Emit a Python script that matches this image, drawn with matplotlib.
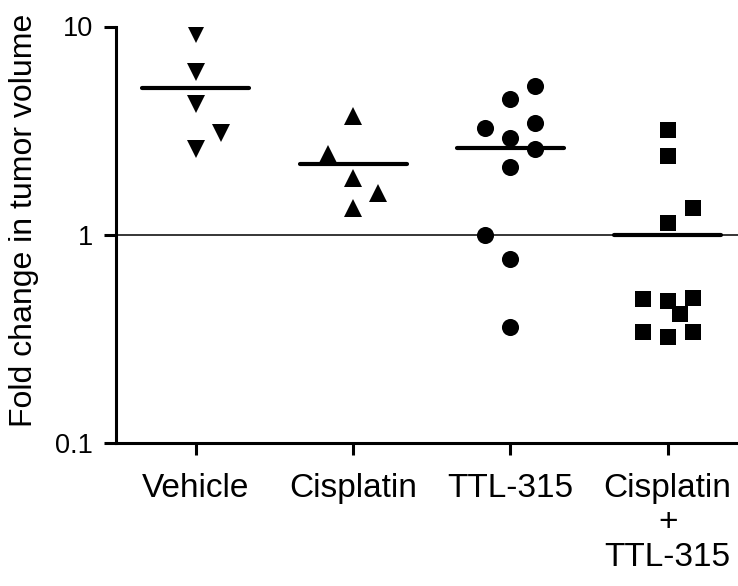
import numpy as np
import matplotlib
matplotlib.use("Agg")
import matplotlib.pyplot as plt

plt.rcParams['font.family'] = ['Liberation Sans', 'DejaVu Sans']

categories = ["Vehicle", "Cisplatin", "TTL-315", "Cisplatin\n+\nTTL-315"]
markers = ["v", "^", "o", "s"]
marker_sizes = [13, 13, 12.3, 12]

vehicle = [9.25, 6.07, 4.26, 3.08, 2.58]
vehicle_jit = [0, 0, 0, 1, 0]
cisplatin = [3.71, 2.43, 1.87, 1.59, 1.34]
cisplatin_jit = [0, -1, 0, 1, 0]
ttl315 = [5.2, 4.48, 3.25, 3.43, 2.91, 2.57, 2.12, 1.0, 0.764, 0.362]
ttl315_jit = [1, 0, -1, 1, 0, 1, 0, -1, 0, 0]
combo = [3.19, 2.40, 1.35, 1.145, 0.489, 0.480, 0.498, 0.417, 0.340, 0.324, 0.340]
combo_jit = [0, 0, 1, 0, -1, 0, 1, 0.5, -1, 0, 1]

groups = [vehicle, cisplatin, ttl315, combo]
jits = [vehicle_jit, cisplatin_jit, ttl315_jit, combo_jit]

yticks = [0.1, 1, 10]
ytick_labels = ["0.1", "1", "10"]

fig = plt.figure(figsize=(7.38, 5.86), dpi=100)
ax = fig.add_axes([116/738, 143/586, 1 - 116/738, (443 - 26.5)/586])

step = 0.159
for i, (vals, jit, m, ms) in enumerate(zip(groups, jits, markers, marker_sizes)):
    xs = i + step * np.array(jit, dtype=float)
    ax.plot(xs, vals, linestyle='none', marker=m, markersize=ms,
            color='black', markeredgewidth=0, zorder=3)
    mu = np.mean(vals)
    ax.plot([i - 0.34, i + 0.34], [mu, mu], color='black', lw=3,
            solid_capstyle='round', zorder=2)

ax.axhline(1, color='black', lw=1.1, zorder=1)

ax.set_yscale('log')
ax.set_ylim(0.1, 10)
ax.set_xlim(-0.507, 3.447)
ax.set_yticks(yticks)
ax.set_yticklabels(ytick_labels)
ax.yaxis.set_minor_locator(matplotlib.ticker.NullLocator())
ax.set_xticks(range(len(categories)))
ax.set_xticklabels(categories, fontsize=24, linespacing=1.15)

for s in ['top', 'right']:
    ax.spines[s].set_visible(False)
for s in ['left', 'bottom']:
    ax.spines[s].set_linewidth(2.2)

ax.tick_params(axis='y', length=8.5, width=2.2, labelsize=19.5, pad=8)
ax.tick_params(axis='x', length=8.5, width=2.2, pad=13)

fig.text(24/738, 1 - 220/586, "Fold change in tumor volume", rotation=90,
         ha='center', va='center', fontsize=23)

fig.savefig("out.png", dpi=100)
